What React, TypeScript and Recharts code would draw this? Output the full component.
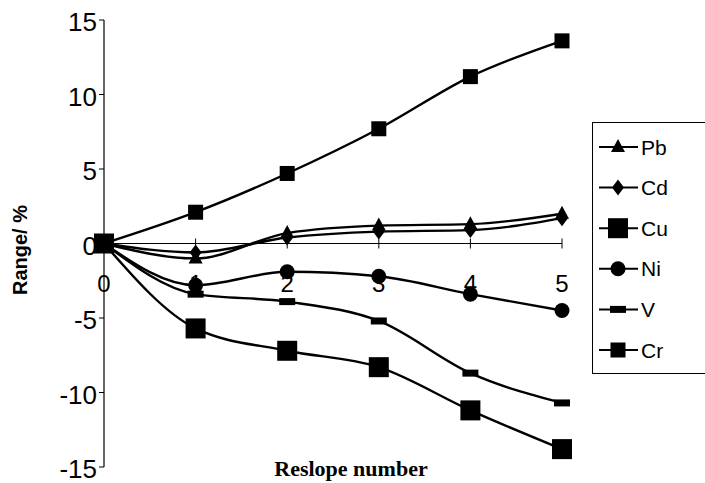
import { LineChart, Line, XAxis, YAxis, ReferenceLine, Label } from 'recharts'

const X_VALUES = [0, 1, 2, 3, 4, 5]
const PB = [0, -1.0, 0.7, 1.2, 1.3, 2.0]
const CD = [0, -0.6, 0.4, 0.8, 0.9, 1.7]
const CU = [0, -5.7, -7.2, -8.3, -11.2, -13.8]
const NI = [0, -2.8, -1.9, -2.2, -3.4, -4.5]
const V = [0, -3.4, -3.9, -5.2, -8.7, -10.7]
const CR = [0, 2.1, 4.7, 7.7, 11.2, 13.6]
const Y_TICKS = [-15, -10, -5, 0, 5, 10, 15]

const SERIES = [
  { key: 'Pb', values: PB, marker: 'triangle' },
  { key: 'Cd', values: CD, marker: 'diamond' },
  { key: 'Cu', values: CU, marker: 'bigSquare' },
  { key: 'Ni', values: NI, marker: 'circle' },
  { key: 'V', values: V, marker: 'dash' },
  { key: 'Cr', values: CR, marker: 'square' },
]

const data = X_VALUES.map((x, i) => {
  const row: Record<string, number> = { x }
  SERIES.forEach(s => { row[s.key] = s.values[i] })
  return row
})

const W = 705
const H = 483
const TOP = 20
const PLOT_BOTTOM = 467
const ZERO_Y = (TOP + PLOT_BOTTOM) / 2
const SANS = '"Liberation Sans", Arial, sans-serif'

// ── markers ────────────────────────────────────────────────────────────────
function Marker({ kind, cx, cy }: { kind: string; cx: number; cy: number }) {
  if (cx == null || cy == null) return null
  switch (kind) {
    case 'triangle':
      return <polygon points={`${cx},${cy - 8} ${cx + 7},${cy + 5} ${cx - 7},${cy + 5}`} fill="#000" />
    case 'diamond':
      return <polygon points={`${cx},${cy - 8} ${cx + 6},${cy} ${cx},${cy + 8} ${cx - 6},${cy}`} fill="#000" />
    case 'bigSquare':
      return <rect x={cx - 10} y={cy - 10} width={20} height={20} fill="#000" />
    case 'square':
      return <rect x={cx - 7.5} y={cy - 7.5} width={15} height={15} fill="#000" />
    case 'circle':
      return <circle cx={cx} cy={cy} r={7.5} fill="#000" />
    case 'dash':
      return <rect x={cx - 8} y={cy - 3.5} width={16} height={7} fill="#000" />
  }
  return null
}

const dotFor = (kind: string) => (p: any) => (
  <Marker key={`${kind}-${p.index}`} kind={kind} cx={p.cx} cy={p.cy} />
)

// ── ticks ──────────────────────────────────────────────────────────────────
function XTick({ x, payload }: any) {
  return (
    <g>
      <line x1={x} x2={x} y1={ZERO_Y - 5} y2={ZERO_Y + 5} stroke="#000" strokeWidth={1} />
      <text x={x} y={ZERO_Y + 40} textAnchor="middle" dominantBaseline="central"
        fontFamily={SANS} fontSize={24} fill="#000">{payload.value}</text>
    </g>
  )
}

function YTick({ x, y, payload }: any) {
  return (
    <text x={x} y={y + 2} textAnchor="end" dominantBaseline="central"
      fontFamily={SANS} fontSize={26} fill="#000">{payload.value}</text>
  )
}

// ── legend ─────────────────────────────────────────────────────────────────
function LegendBox() {
  return (
    <div style={{
      position: 'absolute', left: 592, top: 122, width: 125, height: 252,
      border: '1px solid #000', boxSizing: 'border-box',
    }}>
      <svg width={125} height={252}>
        {SERIES.map((s, i) => {
          const cy = 24 + i * 40.6
          return (
            <g key={s.key}>
              <line x1={6} x2={45} y1={cy} y2={cy} stroke="#000" strokeWidth={2} />
              <Marker kind={s.marker} cx={25} cy={cy} />
              <text x={48} y={cy} dominantBaseline="central" fontFamily={SANS} fontSize={21} fill="#000">{s.key}</text>
            </g>
          )
        })}
      </svg>
    </div>
  )
}

export default function App() {
  return (
    <div style={{ position: 'absolute', left: 0, top: 0, width: W, height: H, background: '#fff' }}>
      <LineChart width={W} height={H} data={data} margin={{ top: TOP, right: 143, left: 30, bottom: 0 }}>
        <XAxis dataKey="x" type="number" domain={[0, 5]} ticks={X_VALUES} axisLine={false} tickLine={false}
          tick={<XTick />} height={16} interval={0}>
          <Label content={() => (
            <text x={351} y={468} textAnchor="middle" dominantBaseline="central"
              fontFamily='"Liberation Serif", "Times New Roman", serif' fontWeight="bold" fontSize={22} fill="#000">
              Reslope number
            </text>
          )} />
        </XAxis>
        <YAxis type="number" domain={[-15, 15]} ticks={Y_TICKS} width={74} interval={0}
          axisLine={{ stroke: '#000', strokeWidth: 1.2 }} tickLine={{ stroke: '#000' }} tickSize={5}
          tick={<YTick />}>
          <Label content={() => (
            <text x={20} y={250} textAnchor="middle" dominantBaseline="central"
              transform="rotate(-90 20 250)" fontFamily={SANS} fontWeight="bold" fontSize={20} fill="#000">
              Range/ %
            </text>
          )} />
        </YAxis>
        <ReferenceLine y={0} stroke="#000" strokeWidth={1} />
        {SERIES.map(s => (
          <Line key={s.key} dataKey={s.key} type="monotone" stroke="#000" strokeWidth={2.4}
            dot={dotFor(s.marker)} activeDot={false} isAnimationActive={false} />
        ))}
      </LineChart>
      <LegendBox />
    </div>
  )
}
